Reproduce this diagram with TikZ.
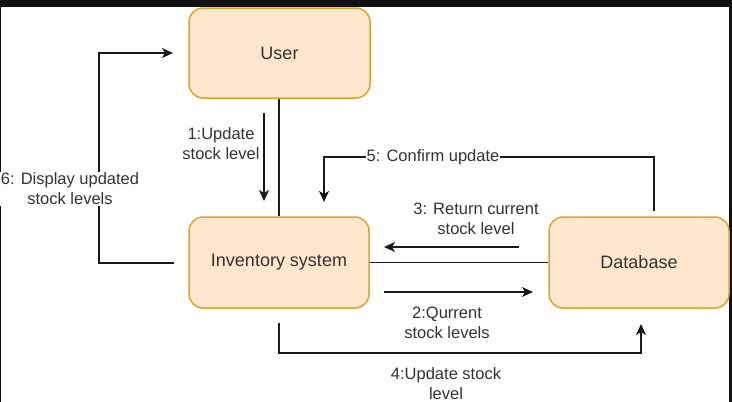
\documentclass[tikz,border=0pt]{standalone}
\usepackage{fontspec}
\setmainfont{Liberation Sans}
\usetikzlibrary{arrows.meta}
\definecolor{boxfill}{HTML}{FFE6CC}
\definecolor{boxline}{HTML}{D9A62A}
\definecolor{txt}{HTML}{333333}
\definecolor{ln}{HTML}{1A1A1A}
\definecolor{frame}{HTML}{111111}
\begin{document}
\begin{tikzpicture}[x=1pt,y=-1pt,
  proc/.style={draw=boxline, fill=boxfill, line width=1.5pt, rounded corners=14pt,
    minimum width=180pt, minimum height=90pt, inner sep=0pt,
    font=\fontsize{18}{21}\selectfont, text=txt},
  conn/.style={draw=ln, line width=1.5pt},
  arr/.style={conn, -{Stealth[length=11pt,width=10pt,inset=3pt]}},
  lbl/.style={font=\fontsize{16.5}{20}\selectfont, text=txt, align=center, inner sep=1pt}]
\useasboundingbox (0,0) rectangle (732,402);
\fill[frame] (0,0) rectangle (732,402);
\fill[white] (1,7) rectangle (729,402);

% nodes
\node[proc, minimum width=181pt] (user) at (279.5,53) {User};
\node[proc, minimum height=91pt] (inv) at (279,262.5) {Inventory system};
\node[proc, minimum height=91pt] (db) at (639,262.5) {Database};

% free ends
\coordinate (a1s) at (264,113);
\coordinate (a1e) at (264,201);
\coordinate (a6s) at (174,263);
\coordinate (a6e) at (173,53);
\coordinate (a5s) at (654,211);
\coordinate (a5e) at (324,202);
\coordinate (a3s) at (519,247);
\coordinate (a3e) at (384,247);
\coordinate (a2s) at (384,292);
\coordinate (a2e) at (533,292);
\coordinate (a4s) at (279,323);
\coordinate (a4e) at (641,324);

% plain links
\draw[conn] (inv.north |- user.south) -- (inv.north);
\draw[conn] (inv.east) -- (db.west);

% arrows
\draw[arr] (a1s) -- (a1e);
\node[lbl] (l1) at (221,144) {1:Update\\stock level};

\draw[arr] (a6s) -- ++(-75,0) |- (a6e);
\node[lbl, fill=white] (l6) at (70,189) {6: Display updated\\stock levels};

\draw[arr] (a5s) -- (654,157) -| (a5e);
\node[lbl, fill=white] (l5) at (433,157) {5: Confirm update};

\draw[arr] (a3s) -- (a3e);
\node[lbl] (l3) at (476,218.5) {3: Return current\\stock level};

\draw[arr] (a2s) -- (a2e);
\node[lbl] (l2) at (447,323) {2:Qurrent\\stock levels};

\draw[arr] (a4s) -- (279,353) -| (a4e);
\node[lbl] (l4) at (446,384) {4:Update stock\\level};
\end{tikzpicture}
\end{document}
